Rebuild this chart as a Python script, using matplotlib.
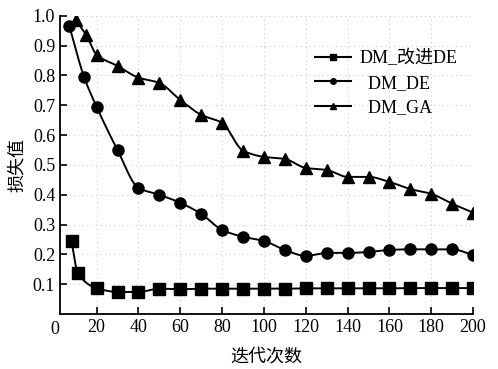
import numpy as np
import matplotlib
matplotlib.use("Agg")
import matplotlib.pyplot as plt
from matplotlib.lines import Line2D

plt.rcParams['font.family'] = ['Liberation Serif', 'Noto Sans CJK SC']
plt.rcParams['axes.unicode_minus'] = False

# 损失值 - 迭代次数
x_imp = [8, 11, 20, 30, 40, 50, 60, 70, 80, 90, 100, 110, 120, 130, 140, 150, 160, 170, 180, 190, 200]
y_imp = [0.245, 0.138, 0.087, 0.074, 0.074, 0.085, 0.083, 0.085, 0.085, 0.085, 0.085, 0.085,
         0.086, 0.086, 0.086, 0.086, 0.086, 0.087, 0.087, 0.087, 0.087]

x_de = [7, 14, 20, 30, 40, 50, 60, 70, 80, 90, 100, 110, 120, 130, 140, 150, 160, 170, 180, 190, 200]
y_de = [0.965, 0.795, 0.695, 0.55, 0.423, 0.40, 0.373, 0.336, 0.282, 0.259, 0.245, 0.215,
        0.195, 0.205, 0.205, 0.208, 0.215, 0.217, 0.217, 0.217, 0.198]

x_ga = [10, 15, 20, 30, 40, 50, 60, 70, 80, 90, 100, 110, 120, 130, 140, 150, 160, 170, 180, 190, 200]
y_ga = [0.987, 0.936, 0.87, 0.832, 0.793, 0.775, 0.718, 0.668, 0.641, 0.548, 0.527, 0.52,
        0.49, 0.483, 0.46, 0.46, 0.443, 0.419, 0.403, 0.37, 0.34]

labels = ['DM_改进DE', '  DM_DE', '  DM_GA']


# 平滑曲线 (PCHIP)
def Smooth(x, y, n=400):
    x = np.asarray(x, float)
    y = np.asarray(y, float)
    h = np.diff(x)
    d = np.diff(y) / h
    m = np.zeros_like(y)
    for k in range(1, len(x) - 1):
        if d[k - 1] * d[k] > 0:
            w1 = 2 * h[k] + h[k - 1]
            w2 = h[k] + 2 * h[k - 1]
            m[k] = (w1 + w2) / (w1 / d[k - 1] + w2 / d[k])
    m[0] = d[0]
    m[-1] = d[-1]
    xs = np.linspace(x[0], x[-1], n)
    i = np.clip(np.searchsorted(x, xs) - 1, 0, len(x) - 2)
    t = (xs - x[i]) / h[i]
    h00 = 2 * t**3 - 3 * t**2 + 1
    h10 = t**3 - 2 * t**2 + t
    h01 = -2 * t**3 + 3 * t**2
    h11 = t**3 - t**2
    ys = h00 * y[i] + h10 * h[i] * m[i] + h01 * y[i + 1] + h11 * h[i] * m[i + 1]
    return xs, ys


fig = plt.figure(figsize=(4.98, 3.69), dpi=100)
ax = fig.add_axes([0.1205, 0.149, 0.8295, 0.808])

for xx, yy, mk, ms in [(x_imp, y_imp, 's', 8), (x_de, y_de, 'o', 8), (x_ga, y_ga, '^', 8)]:
    xs, ys = Smooth(xx, yy)
    ax.plot(xs, ys, color='k', lw=1.4)
    ax.plot(xx, yy, ls='none', marker=mk, ms=ms, color='k')

ax.set_xlim(2.5, 200)
ax.set_ylim(0, 1.0)
ax.set_xticks(np.arange(20, 201, 20))
ax.set_yticks(np.arange(0.1, 1.01, 0.1))
ax.set_yticklabels(['%.1f' % v for v in np.arange(0.1, 1.01, 0.1)])
ax.tick_params(direction='in', labelsize=13, length=5, width=1.2, colors='k')
ax.grid(True, ls=(0, (1, 3)), color='#cccccc', lw=0.8)
ax.spines['top'].set_visible(False)
ax.spines['right'].set_visible(False)
ax.spines['left'].set_linewidth(1.3)
ax.spines['bottom'].set_linewidth(1.3)
ax.text(0, -0.022, '0', fontsize=13, ha='center', va='top', transform=ax.transData, clip_on=False)

ax.set_xlabel('迭代次数', fontsize=13, labelpad=9)
ax.set_ylabel('损失值', fontsize=13, labelpad=5)

handles = [Line2D([], [], color='k', lw=1.5, marker=m, ms=4) for m in ['s', 'o', '^']]
ax.legend(handles, labels, loc='upper left', bbox_to_anchor=(0.595, 0.915), frameon=False,
          fontsize=13, handlelength=2.0, handletextpad=0.45, labelspacing=0.4, borderpad=0)

fig.savefig('out.png', dpi=100)
